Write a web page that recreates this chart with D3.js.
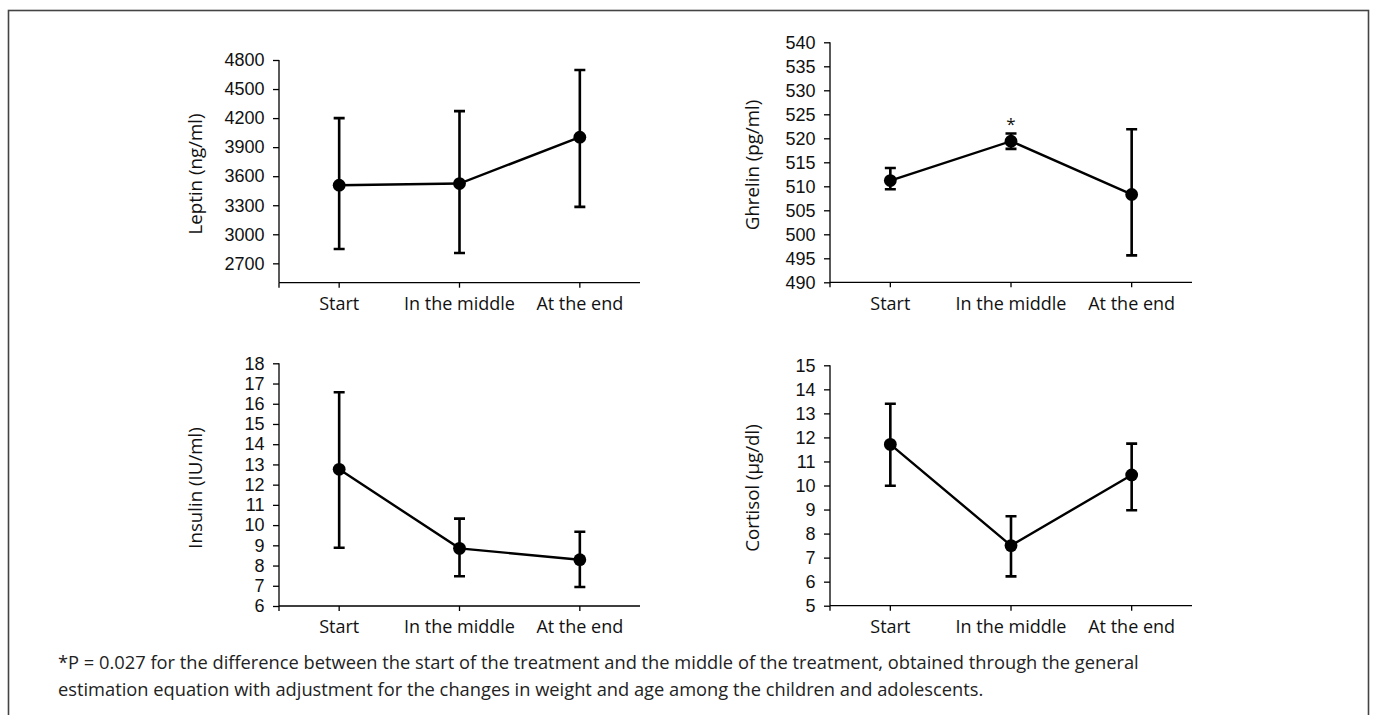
<!DOCTYPE html>
<html><head><meta charset="utf-8">
<script src="https://cdn.jsdelivr.net/npm/d3@7"></script>
<style>body{margin:0;background:#fff}svg{display:block}</style>
</head><body><div id="c"></div>
<script>
const categories = ["Start", "In the middle", "At the end"];

const leptinMean  = [3507, 3524, 4003];
const leptinUpper = [4200, 4272, 4697];
const leptinLower = [2848, 2807, 3283];
const leptinTicks = [2700, 3000, 3300, 3600, 3900, 4200, 4500, 4800];

const ghrelinMean  = [511.2, 519.4, 508.3];
const ghrelinUpper = [513.8, 521.0, 521.9];
const ghrelinLower = [509.4, 517.8, 495.6];
const ghrelinTicks = [490, 495, 500, 505, 510, 515, 520, 525, 530, 535, 540];
const ghrelinStars = ["", "*", ""];

const insulinMean  = [12.76, 8.85, 8.29];
const insulinUpper = [16.57, 10.32, 9.67];
const insulinLower = [8.88, 7.47, 6.94];
const insulinTicks = [6, 7, 8, 9, 10, 11, 12, 13, 14, 15, 16, 17, 18];

const cortisolMean  = [11.71, 7.50, 10.44];
const cortisolUpper = [13.40, 8.72, 11.74];
const cortisolLower = [9.99, 6.22, 8.97];
const cortisolTicks = [5, 6, 7, 8, 9, 10, 11, 12, 13, 14, 15];

const footnote = [
  "*P = 0.027 for the difference between the start of the treatment and the middle of the treatment, obtained through the general",
  "estimation equation with adjustment for the changes in weight and age among the children and adolescents."
];

const W = 1375, H = 715;
const FONT = "'Open Sans', sans-serif";
const TICKFONT = "'Liberation Sans', Arial, sans-serif";
const svg = d3.select("#c").append("svg").attr("width", W).attr("height", H);

svg.append("rect").attr("x", 8.5).attr("y", 10.5).attr("width", 1360).attr("height", 720)
  .attr("fill", "none").attr("stroke", "#444").attr("stroke-width", 1.6);

const panels = [
  {label: "Leptin (ng/ml)", mean: leptinMean, up: leptinUpper, lo: leptinLower, ticks: leptinTicks,
   domain: [2500, 4800], x0: 279, x1: 640, yTop: 60, yBot: 282.7, labelX: 195, labelY: 174},
  {label: "Ghrelin (pg/ml)", mean: ghrelinMean, up: ghrelinUpper, lo: ghrelinLower, ticks: ghrelinTicks,
   domain: [490, 540], x0: 830, x1: 1192, yTop: 42.3, yBot: 282.3, labelX: 752, labelY: 165, stars: ghrelinStars},
  {label: "Insulin (IU/ml)", mean: insulinMean, up: insulinUpper, lo: insulinLower, ticks: insulinTicks,
   domain: [6, 18], x0: 279, x1: 640, yTop: 363.3, yBot: 606, labelX: 195, labelY: 488},
  {label: "Cortisol (\u00b5g/dl)", mean: cortisolMean, up: cortisolUpper, lo: cortisolLower, ticks: cortisolTicks,
   domain: [5, 15], x0: 830, x1: 1192, yTop: 365.3, yBot: 605.7, labelX: 752, labelY: 488}
];

panels.forEach(p => {
  const g = svg.append("g");
  const x = d3.scaleBand().domain(categories).range([p.x0, p.x1]);
  const cx = c => x(c) + x.bandwidth() / 2;
  const y = d3.scaleLinear().domain(p.domain).range([p.yBot, p.yTop]);

  // y axis
  const ya = g.append("g").attr("transform", `translate(${p.x0},0)`)
    .call(d3.axisLeft(y).tickValues(p.ticks).tickSize(6).tickPadding(8.5).tickFormat(d3.format("d")));
  ya.select(".domain").attr("d", `M0,${p.yBot}V${p.yTop}`);
  ya.selectAll("line, path").attr("stroke", "#000").attr("stroke-width", 1.3);
  ya.selectAll("text").attr("font-family", TICKFONT).attr("font-size", 18).attr("fill", "#111");

  // x axis
  const xa = g.append("g").attr("transform", `translate(0,${p.yBot})`)
    .call(d3.axisBottom(x).tickSize(5).tickPadding(9.5));
  xa.select(".domain").attr("d", `M${p.x0},0V5M${p.x0},0H${p.x1}`);
  xa.selectAll("line, path").attr("stroke", "#000").attr("stroke-width", 1.3);
  xa.selectAll("text").attr("font-family", FONT).attr("font-size", 18).attr("fill", "#111");

  // y label
  g.append("text").attr("transform", `translate(${p.labelX},${p.labelY}) rotate(-90)`)
    .attr("text-anchor", "middle").attr("dy", "0.35em")
    .attr("font-family", FONT).attr("font-size", 18.7).attr("fill", "#111").text(p.label);

  // line
  const pts = categories.map((c, i) => [cx(c), y(p.mean[i])]);
  g.append("path").attr("d", d3.line()(pts)).attr("fill", "none").attr("stroke", "#000").attr("stroke-width", 2.4);

  // error bars
  const cap = 5.5;
  categories.forEach((c, i) => {
    const xc = cx(c), yu = y(p.up[i]), yl = y(p.lo[i]);
    g.append("path").attr("d", `M${xc},${yu}V${yl}M${xc - cap},${yu}H${xc + cap}M${xc - cap},${yl}H${xc + cap}`)
      .attr("fill", "none").attr("stroke", "#000").attr("stroke-width", 2.6);
  });

  // markers
  g.selectAll("circle.m").data(categories).join("circle").attr("class", "m")
    .attr("cx", c => cx(c)).attr("cy", (c, i) => y(p.mean[i])).attr("r", 6.4).attr("fill", "#000");

  if (p.stars) {
    categories.forEach((c, i) => {
      if (!p.stars[i]) return;
      g.append("text").attr("x", cx(c)).attr("y", y(p.up[i]) - 4).attr("text-anchor", "middle")
        .attr("font-family", FONT).attr("font-size", 17).attr("fill", "#111").text(p.stars[i]);
    });
  }
});

footnote.forEach((t, i) => {
  svg.append("text").attr("x", 58).attr("y", 669 + i * 27)
    .attr("font-family", FONT).attr("font-size", 18.3).attr("fill", "#222").text(t);
});
</script></body></html>
